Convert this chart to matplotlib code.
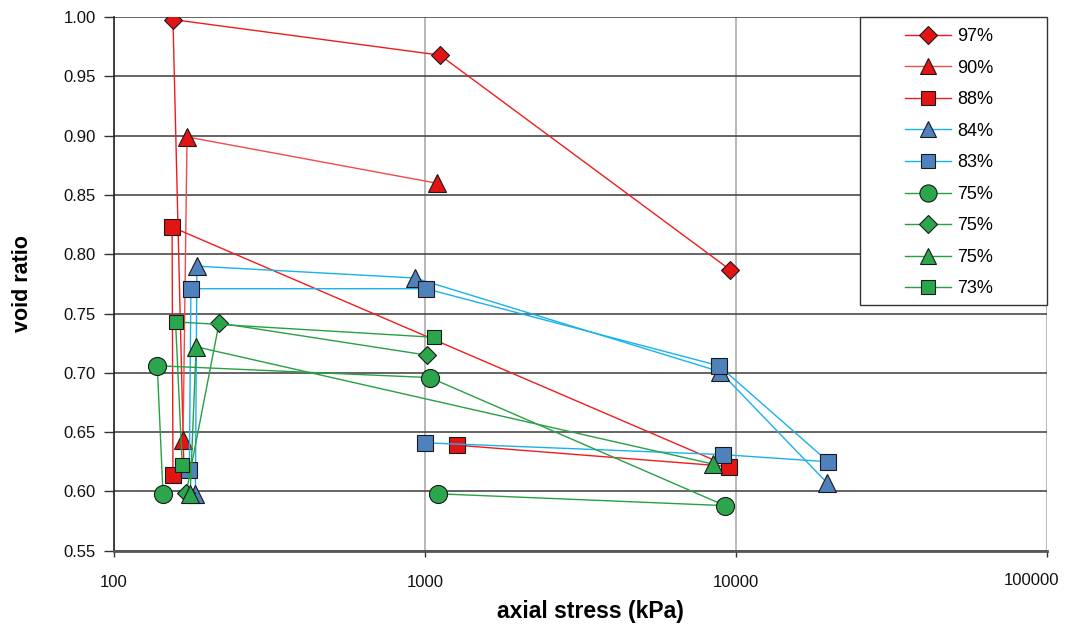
import numpy as np
import matplotlib.pyplot as plt
from matplotlib.ticker import FixedLocator, NullLocator, FuncFormatter
from matplotlib import patches

plt.rcParams['font.family'] = ['Liberation Sans', 'DejaVu Sans']

# series: axial stress (kPa) and void ratio, in measurement order
labels = ['97%', '90%', '88%', '84%', '83%', '75%', '75%', '75%', '73%']

stress_97 = [168, 155, 1118, 9560]
void_97 = [0.621, 0.998, 0.968, 0.787]

stress_90 = [167, 172, 1091]
void_90 = [0.643, 0.899, 0.860]

stress_88 = [155, 154, 9490, 1265]
void_88 = [0.614, 0.823, 0.621, 0.639]

stress_84 = [183, 185, 929, 8880, 19640]
void_84 = [0.598, 0.790, 0.780, 0.701, 0.607]

stress_83 = [175, 177, 1006, 8810, 19780, 9100, 998]
void_83 = [0.618, 0.771, 0.771, 0.706, 0.625, 0.631, 0.641]

stress_75a = [144, 138, 1038, 9210, 1099]
void_75a = [0.598, 0.706, 0.696, 0.588, 0.598]

stress_75b = [171, 218, 1013]
void_75b = [0.599, 0.742, 0.715]

stress_75c = [176, 184, 8450]
void_75c = [0.598, 0.722, 0.623]

stress_73 = [166, 158, 1072]
void_73 = [0.622, 0.743, 0.730]

x_ticks = [100, 1000, 10000, 100000]

red_fill, red_line = '#e21414', '#f01c1c'
blue_fill, blue_line = '#4f81bd', '#19b2ec'
green_fill, green_line = '#2ca64c', '#27a044'

series = [
    (stress_97, void_97, 'D', 9.5, red_fill, red_line),
    (stress_90, void_90, '^', 12.5, red_fill, '#f04a4a'),
    (stress_88, void_88, 's', 11, red_fill, red_line),
    (stress_84, void_84, '^', 12.5, blue_fill, blue_line),
    (stress_83, void_83, 's', 11, blue_fill, blue_line),
    (stress_75a, void_75a, 'o', 13, green_fill, green_line),
    (stress_75b, void_75b, 'D', 9.5, green_fill, green_line),
    (stress_75c, void_75c, '^', 12.5, green_fill, green_line),
    (stress_73, void_73, 's', 10, green_fill, green_line),
]

fig = plt.figure(figsize=(10.67, 6.3), dpi=100)
ax = fig.add_axes([0.1066, 0.1259, 0.8749, 0.8468])

for (xs, ys, mk, ms, fc, lc), lab in zip(series, labels):
    ax.plot(xs, ys, color=lc, lw=1.0, marker=mk, ms=ms, mfc=fc,
            mec='#1a1a1a', mew=0.8, label=lab)

ax.set_xscale('log')
ax.set_xlim(x_ticks[0], x_ticks[-1])
ax.set_ylim(0.55, 1.00)
ax.xaxis.set_major_locator(FixedLocator(x_ticks))
ax.xaxis.set_minor_locator(NullLocator())
# last label is drawn separately, pulled inside the figure like the original
ax.xaxis.set_major_formatter(FuncFormatter(lambda v, p: '' if v >= x_ticks[-1] else '%d' % v))
ax.annotate('%d' % x_ticks[-1], xy=(1, 0), xycoords='axes fraction',
            xytext=(-16, -29.5), textcoords='offset pixels',
            ha='center', va='center', fontsize=12, color='#111111')
ax.set_yticks(np.arange(0.55, 1.001, 0.05))
ax.yaxis.set_major_formatter(FuncFormatter(lambda v, p: '%.2f' % v))

ax.grid(axis='y', color='#4a4a4a', lw=1.2)
ax.grid(axis='x', color='#b8b8b8', lw=1.4)
ax.set_axisbelow(True)

for s in ['top', 'right']:
    ax.spines[s].set_visible(False)
ax.spines['left'].set_color('#222222')
ax.spines['left'].set_linewidth(1.2)
ax.spines['bottom'].set_color('#555555')
ax.spines['bottom'].set_linewidth(2.0)

ax.tick_params(axis='y', length=7, width=1, color='#333333', labelsize=12, pad=6,
               labelcolor='#111111')
ax.tick_params(axis='x', length=4, width=1, color='#333333', labelsize=12, pad=13.5,
               labelcolor='#111111')

ax.set_xlabel('axial stress (kPa)', fontsize=16.5, fontweight='bold')
ax.xaxis.set_label_coords(0.5107, -0.092)
ax.set_ylabel('void ratio', fontsize=15.5, fontweight='bold')
ax.yaxis.set_label_coords(-0.087, 0.5)

# legend frame spans the top-right corner of the plot area
ax.add_patch(patches.Rectangle((0.7994, 0.4605), 0.2006, 0.5395, transform=ax.transAxes,
                               facecolor='white', edgecolor='#333333', lw=1.0,
                               zorder=4, clip_on=False))
leg = ax.legend(loc='upper center', bbox_to_anchor=(0.895, 0.993),
                borderaxespad=0, fontsize=13, labelspacing=0.805,
                handlelength=2.55, handletextpad=0.33, borderpad=0.4,
                markerscale=0.95, frameon=False)
leg.set_zorder(5)

fig.savefig('out.png', dpi=100)
